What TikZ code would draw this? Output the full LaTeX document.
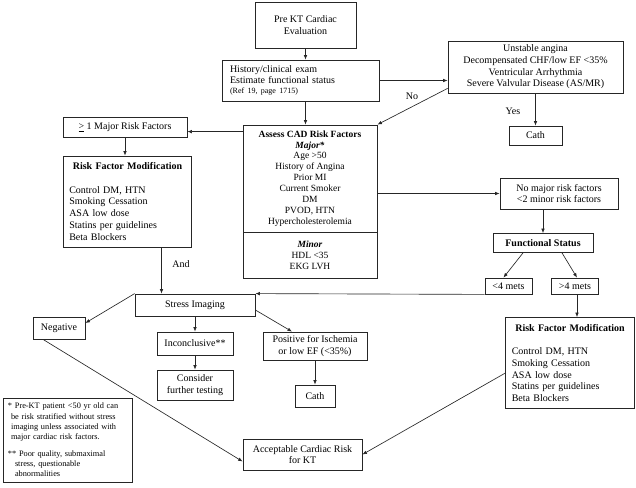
\documentclass[tikz,border=0pt]{standalone}
\usepackage{fontspec}
\setmainfont{Liberation Serif}
\usetikzlibrary{arrows.meta,calc,positioning}

\begin{document}
\begin{tikzpicture}[
  x=1pt, y=-1pt,
  >={Latex[length=4.5pt,width=3.6pt]},
  font=\fontsize{10}{11.7}\selectfont,
  box/.style={draw=black!85, line width=0.8pt, fill=white, align=center, inner sep=2pt},
  rfmbox/.style={box, align=left, text width=116.5pt, inner xsep=6pt, minimum height=91pt},
  factorbox/.style={box, minimum width=134pt, font=\fontsize{9.5}{10.9}\selectfont},
  metsbox/.style={box, minimum width=47pt, minimum height=16pt},
  arrow/.style={->, line width=0.65pt, draw=black!85},
  note/.style={font=\fontsize{10}{11.7}\selectfont}
]
\useasboundingbox (0,0) rectangle (636,487);

\node[box, minimum width=101pt, minimum height=46pt] (pre) at (305.5,25) {Pre KT Cardiac\\Evaluation};
\node[box, align=left, text width=141pt, inner xsep=8pt, minimum height=41pt, font=\fontsize{10}{10.5}\selectfont] (hist) at (300.5,80.5) {History/clinical exam\\Estimate functional status\\{\fontsize{8}{10.5}\selectfont (Ref 19, page 1715)}};
\node[box, minimum width=175pt, minimum height=52pt] (unstable) at (535.5,67) {Unstable angina\\Decompensated CHF/low EF <35\%\\Ventricular Arrhythmia\\Severe Valvular Disease (AS/MR)};
\node[box, minimum width=53pt, minimum height=19pt] (cathtop) at (535.5,135.5) {Cath};
\node[note] (nolabel) at (412,96) {No};
\node[note] (yeslabel) at (513,111) {Yes};

\draw[arrow] (pre.south) -- (pre.south |- hist.north);
\draw[arrow] (hist.east) -- (hist.east -| unstable.west);
\draw[arrow] (unstable.south) -- (cathtop.north);

\node[factorbox, minimum height=107pt] (assess) at (310,178.5) {\textbf{Assess CAD Risk Factors}\\\textbf{\textit{Major*}}\\Age >50\\History of Angina\\Prior MI\\Current Smoker\\DM\\PVOD, HTN\\Hypercholesterolemia};
\node[factorbox, minimum height=46pt] (minor) at (310,255) {\textbf{\textit{Minor}}\\HDL <35\\EKG LVH};
\draw[arrow] (pre.south |- hist.south) -- (pre.south |- assess.north);
\draw[arrow] ([yshift=5pt]unstable.south west) -- (assess.north east);

\node[box, minimum width=124pt, minimum height=20pt] (majorone) at (125,127) {\underline{>} 1 Major Risk Factors};
\node[rfmbox] (rfmleft) at (127.5,201.5) {\makebox[116.5pt]{\textbf{Risk Factor Modification}}\\[11.7pt]Control DM, HTN\\Smoking Cessation\\ASA low dose\\Statins per guidelines\\Beta Blockers};
\node[note] (andlabel) at (181,264) {And};
\draw[arrow] ([yshift=-7pt]assess.north west) -- ([yshift=-7pt]assess.north west -| majorone.east);
\draw[arrow] (majorone.south) -- (majorone.south |- rfmleft.north);

\node[box, minimum width=118pt, minimum height=31pt] (nomajor) at (559,193.5) {No major risk factors\\<2 minor risk factors};
\node[box, minimum width=100pt, minimum height=19pt] (funcstatus) at (543,243) {\textbf{Functional Status}};
\node[metsbox] (ltfour) at (508.5,286) {<4 mets};
\node[metsbox] (gtfour) at (575,286) {>4 mets};
\node[rfmbox] (rfmright) at (570,363) {\makebox[116.5pt]{\textbf{Risk Factor Modification}}\\[11.7pt]Control DM, HTN\\Smoking Cessation\\ASA low dose\\Statins per guidelines\\Beta Blockers};
\draw[arrow] (assess.east |- nomajor.west) -- (nomajor.west);
\draw[arrow] (funcstatus.north |- nomajor.south) -- (funcstatus.north);
\draw[arrow] ([xshift=-20pt]funcstatus.south) -- ([xshift=-5pt]ltfour.north);
\draw[arrow] ([xshift=19pt]funcstatus.south) -- ([xshift=2pt]gtfour.north);
\draw[arrow] ([xshift=2pt]gtfour.south) -- ([xshift=2pt]gtfour.south |- rfmright.north);

\node[box, minimum width=120pt, minimum height=22pt] (stress) at (195,305) {Stress Imaging};
\node[box, minimum width=52pt, minimum height=22pt] (negative) at (59,328) {Negative};
\node[box, minimum width=76pt, minimum height=23pt] (inconcl) at (195,343.5) {Inconclusive**};
\node[box, minimum width=76pt, minimum height=30pt] (consider) at (195,385) {Consider\\further testing};
\node[box, minimum width=104pt, minimum height=28pt] (positive) at (315,346) {Positive for Ischemia\\or low EF (<35\%)};
\node[box, minimum width=40pt, minimum height=22pt] (cathbottom) at (315,396) {Cath};
\node[box, minimum width=119pt, minimum height=31pt] (accept) at (302.5,454.5) {Acceptable Cardiac Risk\\for KT};
\draw[arrow] ([xshift=34pt]rfmleft.south) -- ([xshift=34pt]rfmleft.south |- stress.north);
\draw[arrow] (ltfour.south west) -- (stress.north east);
\draw[arrow] (stress.north west) -- ([yshift=5pt]negative.east);
\draw[arrow] (stress.south) -- (inconcl.north);
\draw[arrow] (inconcl.south) -- (consider.north);
\draw[arrow] ([yshift=-5pt]stress.east) -- ([xshift=-23pt]positive.north);
\draw[arrow] (positive.south) -- (cathbottom.north);
\draw[arrow] ([xshift=-16pt]negative.south) -- ([yshift=-7pt]accept.west);
\draw[arrow] ([yshift=-10pt]rfmright.west) -- (accept.east);

\node[box, align=left, text width=119pt, inner xsep=5pt, minimum height=84pt, font=\fontsize{8.3}{10.3}\selectfont] (footnote) at (67.5,440) {* Pre-KT patient <50 yr old can\\\hspace*{3pt}be risk stratified without stress\\\hspace*{3pt}imaging unless associated with\\\hspace*{3pt}major cardiac risk factors.\\[6pt]** Poor quality, submaximal\\\hspace*{7pt}stress, questionable\\\hspace*{7pt}abnormalities};
\end{tikzpicture}
\end{document}
